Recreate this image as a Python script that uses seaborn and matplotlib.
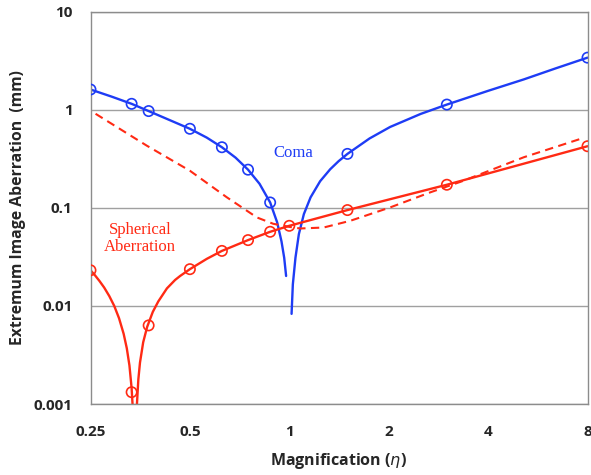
import matplotlib
matplotlib.use("Agg")
import matplotlib.pyplot as plt
import seaborn as sns
from matplotlib.ticker import FixedLocator, FixedFormatter, NullLocator

# marker points: magnification vs extremum aberration (mm)
coma_eta_pts = [0.25, 0.333, 0.375, 0.5, 0.625, 0.75, 0.875, 1.5, 3.0, 8.0]
coma_pts = [1.61, 1.15, 0.97, 0.64, 0.415, 0.245, 0.1135, 0.355, 1.13, 3.40]

sph_eta_pts = [0.25, 0.333, 0.375, 0.5, 0.625, 0.75, 0.875, 1.0, 1.5, 3.0, 8.0]
sph_pts = [0.0231, 0.00132, 0.00633, 0.0237, 0.0364, 0.0469, 0.0570, 0.0656, 0.0949, 0.172, 0.425]

# coma curve, two branches either side of eta = 1
coma_left_eta = [0.25, 0.29, 0.333, 0.375, 0.5, 0.5625, 0.625, 0.6875, 0.75, 0.8125, 0.875,
                 0.919, 0.947, 0.965, 0.978]
coma_left = [1.61, 1.36, 1.15, 0.97, 0.64, 0.52, 0.415, 0.325, 0.245, 0.176, 0.1135,
             0.071, 0.0455, 0.031, 0.0202]
coma_right_eta = [1.016, 1.025, 1.044, 1.069, 1.107, 1.16, 1.24, 1.33, 1.41, 1.5, 1.75, 2.02,
                  2.5, 3.0, 4.0, 5.13, 6.4, 8.0]
coma_right = [0.0083, 0.0166, 0.0311, 0.054, 0.0864, 0.128, 0.187, 0.2475, 0.299, 0.355, 0.51,
              0.668, 0.9075, 1.13, 1.56, 2.04, 2.64, 3.40]

# spherical aberration curve (dips to zero near eta = 0.34)
sph_eta = [0.25, 0.258, 0.266, 0.275, 0.285, 0.295, 0.305, 0.315, 0.322, 0.328, 0.333, 0.337,
           0.3395, 0.3425, 0.345, 0.349, 0.353, 0.361, 0.371, 0.386, 0.401, 0.426, 0.451,
           0.467, 0.5, 0.5625, 0.625, 0.75, 0.875, 1.0, 1.5, 3.0, 8.0]
sph = [0.0231, 0.0205, 0.018, 0.0154, 0.0126, 0.0100, 0.0075, 0.0052, 0.0037, 0.00247, 0.00145,
       0.00073, 0.00027, 0.00034, 0.0009, 0.00178, 0.00264, 0.00426, 0.00609, 0.00869, 0.0111,
       0.0151, 0.0184, 0.0202, 0.0237, 0.0302, 0.0364, 0.0469, 0.0570, 0.0656, 0.0949, 0.172, 0.425]

# dashed spherical curve
dash_eta = [0.259, 0.37, 0.5, 0.647, 0.798, 0.894, 1.0, 1.079, 1.27, 1.53, 2.02, 2.67, 3.37,
            5.13, 7.62]
dash = [0.91, 0.431, 0.239, 0.128, 0.0798, 0.0688, 0.0640, 0.0616, 0.063, 0.0738, 0.101,
        0.1437, 0.189, 0.328, 0.505]

x_ticks = [0.25, 0.5, 1, 2, 4, 8]
x_labels = ["0.25", "0.5", "1", "2", "4", "8"]
y_ticks = [0.001, 0.01, 0.1, 1, 10]
y_labels = ["0.001", "0.01", "0.1", "1", "10"]

blue = "#1e3cf5"
red = "#ff2a14"

sns.set_style("white")
plt.rcParams["font.family"] = ["Open Sans", "DejaVu Sans"]

fig = plt.figure(figsize=(5.91, 4.75), dpi=100)
ax = fig.add_axes([90.5 / 591, 71 / 475, 497 / 591, 392.3 / 475])

sns.lineplot(x=coma_left_eta, y=coma_left, ax=ax, color=blue, lw=1.7, sort=False, estimator=None)
sns.lineplot(x=coma_right_eta, y=coma_right, ax=ax, color=blue, lw=1.7, sort=False, estimator=None)
sns.lineplot(x=sph_eta, y=sph, ax=ax, color=red, lw=1.7, sort=False, estimator=None)
sns.lineplot(x=dash_eta, y=dash, ax=ax, color=red, lw=1.5, sort=False, estimator=None,
             linestyle=(0, (4, 2.6)))
sns.scatterplot(x=coma_eta_pts, y=coma_pts, ax=ax, marker="o", s=55,
                facecolor="none", edgecolor=blue, linewidth=1.2, zorder=5)
sns.scatterplot(x=sph_eta_pts, y=sph_pts, ax=ax, marker="o", s=55,
                facecolor="none", edgecolor=red, linewidth=1.2, zorder=5)

ax.set_xscale("log", base=2)
ax.set_yscale("log")
ax.set_xlim(0.25, 8)
ax.set_ylim(0.001, 10)
ax.xaxis.set_major_locator(FixedLocator(x_ticks))
ax.xaxis.set_major_formatter(FixedFormatter(x_labels))
ax.yaxis.set_major_locator(FixedLocator(y_ticks))
ax.yaxis.set_major_formatter(FixedFormatter(y_labels))
ax.xaxis.set_minor_locator(NullLocator())
ax.yaxis.set_minor_locator(NullLocator())

ax.grid(axis="y", color="#a0a0a0", lw=1.0)
ax.grid(axis="x", visible=False)
for s in ax.spines.values():
    s.set_color("#8c8c8c")
    s.set_linewidth(1.0)
ax.tick_params(axis="both", direction="out", length=5, width=1, color="#8c8c8c",
               labelsize=11, pad=8)
ax.tick_params(axis="x", pad=10)
for lab in ax.get_xticklabels() + ax.get_yticklabels():
    lab.set_fontweight("bold")

ax.set_xlabel(r"Magnification ($\eta$)", fontsize=11.5, fontweight="bold", labelpad=9)
ax.set_ylabel("Extremum Image Aberration  (mm)", fontsize=11.3, fontweight="bold", labelpad=5)

ax.text(0.407, 0.64, "Coma", transform=ax.transAxes, color=blue, fontsize=12,
        family="Liberation Serif", ha="center", va="center")
ax.text(0.0996, 0.422, "Spherical\nAberration", transform=ax.transAxes, color=red,
        fontsize=12, family="Liberation Serif", ha="center", va="center",
        multialignment="center", linespacing=1.15)

fig.savefig("out.png", dpi=100)
